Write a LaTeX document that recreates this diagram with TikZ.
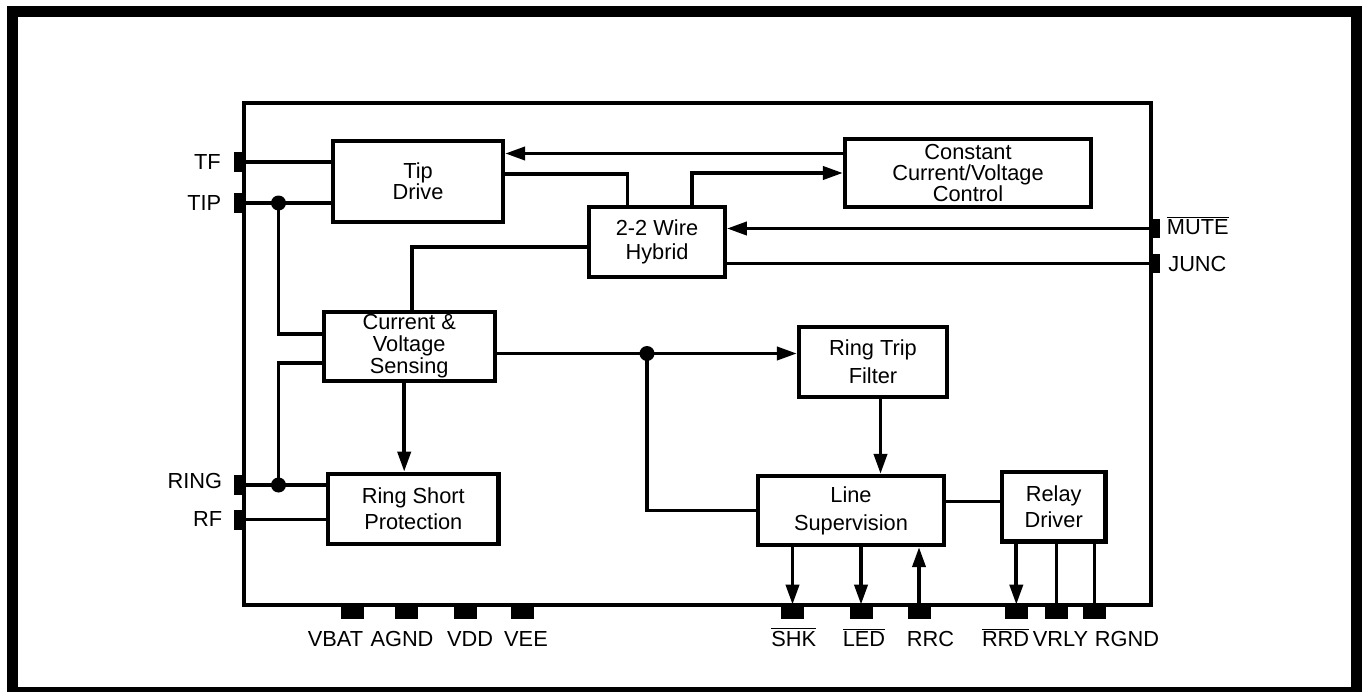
\documentclass[tikz,border=0pt]{standalone}
\usepackage{fontspec}
\setmainfont{Liberation Sans}
\usetikzlibrary{arrows.meta}

\begin{document}
\begin{tikzpicture}[x=0.02cm, y=-0.02cm,
    font=\fontsize{12.4}{14}\selectfont,
    block/.style={rectangle, draw, line width=0.085cm, inner sep=0pt, align=center, font=\fontsize{12.4}{#1}\selectfont},
    lpin/.style={rectangle, fill=black, inner sep=0pt, minimum width=0.22cm, minimum height=0.4cm},
    bpin/.style={rectangle, fill=black, inner sep=0pt, minimum width=0.46cm, minimum height=0.28cm},
    pinlbl/.style={inner sep=0pt},
    wire/.style={line width=0.075cm},
    arrow/.style={wire, -{Triangle[length=0.4cm, width=0.26cm]}}]

    % Frame and chip outline
    \useasboundingbox (0,0) rectangle (1364,692);
    \draw[line width=0.22cm] (12.5,12) rectangle (1356.5,692.2);
    \draw[line width=0.08cm] (244,103) rectangle (1151,605);

    % Blocks
    \node[block=11.8pt, minimum width=3.40cm, minimum height=1.62cm] (tipdrive) at (418,181.5) {Tip\\Drive};
    \node[block=11.9pt, minimum width=4.92cm, minimum height=1.37cm] (ccvctl) at (968,173) {Constant\\Current/Voltage\\Control};
    \node[block=13.6pt, minimum width=2.71cm, minimum height=1.40cm] (hybrid) at (657,242.2) {2-2 Wire\\Hybrid};
    \node[block=12.5pt, minimum width=3.42cm, minimum height=1.38cm] (sensing) at (409.2,346.5) {Current \&\\Voltage\\Sensing};
    \node[block=15.9pt, minimum width=2.96cm, minimum height=1.40cm] (ringtrip) at (873,362) {Ring Trip\\Filter};
    \node[block=14.6pt, minimum width=3.41cm, minimum height=1.40cm] (ringshort) at (413.3,508.8) {Ring Short\\Protection};
    \node[block=15.9pt, minimum width=3.72cm, minimum height=1.38cm] (linesup) at (851,510.5) {Line\\Supervision};
    \node[block=15.2pt, minimum width=2.07cm, minimum height=1.39cm] (relay) at (1053.7,506.7) {Relay\\Driver};

    % Pins
    \node[lpin] (pTF) at (239,162) {};
    \node[lpin] (pTIP) at (239,203) {};
    \node[lpin] (pRING) at (239,485) {};
    \node[lpin] (pRF) at (239,519.5) {};
    \node[lpin, minimum width=0.19cm] (pMUTE) at (1155,228.5) {};
    \node[lpin, minimum width=0.19cm] (pJUNC) at (1155,263.5) {};
    \node[bpin] (pVBAT) at (352,612) {};
    \node[bpin] (pAGND) at (406.5,612) {};
    \node[bpin] (pVDD) at (465,612) {};
    \node[bpin] (pVEE) at (522,612) {};
    \node[bpin] (pSHK) at (792.5,612) {};
    \node[bpin] (pLED) at (861,612) {};
    \node[bpin] (pRRC) at (919,612) {};
    \node[bpin] (pRRD) at (1016.3,612) {};
    \node[bpin] (pVRLY) at (1056.5,612) {};
    \node[bpin] (pRGND) at (1094.5,612) {};

    % Pin labels
    \node[pinlbl, anchor=base east] (lTF) at (221,170) {TF};
    \node[pinlbl, anchor=base east] (lTIP) at (221.5,211) {TIP};
    \node[pinlbl, anchor=base east] (lRING) at (222.5,488.3) {RING};
    \node[pinlbl, anchor=base east] (lRF) at (222.5,526) {RF};
    \node[pinlbl, anchor=base west] (lMUTE) at (1166.5,235) {$\overline{\mbox{MUTE}}$};
    \node[pinlbl, anchor=base west] (lJUNC) at (1168,271.7) {JUNC};
    \node[pinlbl, anchor=base] (lVBAT) at (335.5,646.5) {VBAT};
    \node[pinlbl, anchor=base] (lAGND) at (402,646.5) {AGND};
    \node[pinlbl, anchor=base] (lVDD) at (470,646.5) {VDD};
    \node[pinlbl, anchor=base] (lVEE) at (526,646.5) {VEE};
    \node[pinlbl, anchor=base] (lSHK) at (793.7,646.5) {$\overline{\mbox{SHK}}$};
    \node[pinlbl, anchor=base] (lLED) at (864,646.5) {$\overline{\mbox{LED}}$};
    \node[pinlbl, anchor=base] (lRRC) at (930.5,646.5) {RRC};
    \node[pinlbl, anchor=base] (lRRD) at (1005.6,646.5) {$\overline{\mbox{RRD}}$};
    \node[pinlbl, anchor=base] (lVRLY) at (1060.5,646.5) {VRLY};
    \node[pinlbl, anchor=base] (lRGND) at (1127,646.5) {RGND};

    % Junctions
    \coordinate (dTip) at (278.5,203);
    \coordinate (dRing) at (278.5,485);
    \coordinate (dSense) at (647,353.5);

    % Wires
    \draw[wire] (pTF.east) -- (pTF.east -| tipdrive.west);
    \draw[wire] (pTIP.east) -- (pTIP.east -| tipdrive.west);
    \draw[wire] (dTip) |- ([yshift=0.25cm]sensing.west);
    \draw[wire] ([yshift=-0.33cm]sensing.west) -| (dRing);
    \draw[wire] (pRING.east) -- (pRING.east -| ringshort.west);
    \draw[wire] (pRF.east) -- (pRF.east -| ringshort.west);
    \draw[arrow] ([yshift=0.39cm]ccvctl.west) -- ([yshift=0.39cm]ccvctl.west -| tipdrive.east);
    \draw[wire] ([yshift=0.15cm]tipdrive.east) -| ([xshift=-0.59cm]hybrid.north);
    \draw[arrow] ([xshift=0.7cm]hybrid.north) |- (ccvctl.west);
    \draw[arrow] (pMUTE.west) -- (pMUTE.west -| hybrid.east);
    \draw[wire] (hybrid.east |- pJUNC.west) -- (pJUNC.west);
    \draw[wire] ([yshift=-0.09cm]hybrid.west) -| ([xshift=0.06cm]sensing.north);
    \draw[arrow] ([yshift=0.17cm]ringtrip.west -| sensing.east) -- ([yshift=0.17cm]ringtrip.west);
    \draw[wire] (dSense) |- (linesup.west);
    \draw[arrow] ([xshift=-0.1cm]sensing.south) -- ([xshift=-0.1cm]sensing.south |- ringshort.north);
    \draw[arrow] ([xshift=0.15cm]ringtrip.south) -- ([xshift=0.15cm]ringtrip.south |- linesup.north);
    \draw[wire] ([yshift=0.18cm]linesup.east) -- ([yshift=0.18cm]linesup.east -| relay.west);
    \draw[arrow] (linesup.south -| pSHK.north) -- (pSHK.north);
    \draw[arrow] (linesup.south -| pLED.north) -- (pLED.north);
    \draw[arrow] (pRRC.north) -- (pRRC.north |- linesup.south);
    \draw[arrow] (relay.south -| pRRD.north) -- (pRRD.north);
    \draw[wire] (relay.south -| pVRLY.north) -- (pVRLY.north);
    \draw[wire] (relay.south -| pRGND.north) -- (pRGND.north);

    % Dots
    \fill (dTip) circle (0.15cm);
    \fill (dRing) circle (0.15cm);
    \fill (dSense) circle (0.15cm);
\end{tikzpicture}
\end{document}
